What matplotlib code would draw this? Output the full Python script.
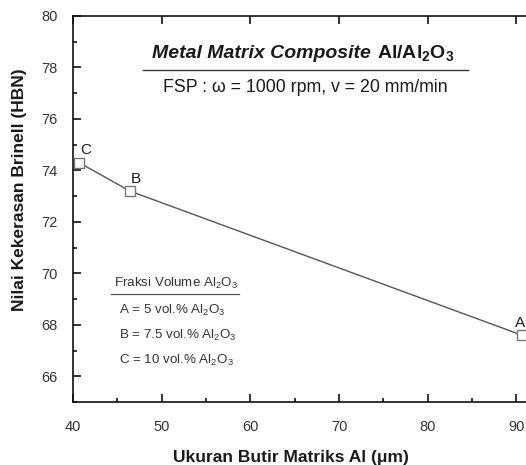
import numpy as np
import matplotlib.pyplot as plt
from matplotlib.ticker import MultipleLocator

plt.rcParams['font.family'] = ['Liberation Sans', 'DejaVu Sans']
plt.rcParams['mathtext.default'] = 'regular'

# grain size (um) vs Brinell hardness
grain_size = [40.7, 46.4, 90.6]
hardness = [74.3, 73.2, 67.6]
point_labels = ['C', 'B', 'A']
label_offsets = [(1, 6), (1, 6), (-5, 6)]

x_ticks = [40, 50, 60, 70, 80, 90, 100]
x_ticklabels = ['40', '50', '60', '70', '80', '90', '']

legend_title = 'Fraksi Volume Al$_2$O$_3$'
legend_rows = ['A = 5 vol.% Al$_2$O$_3$',
               'B = 7.5 vol.% Al$_2$O$_3$',
               'C = 10 vol.% Al$_2$O$_3$']

W, H = 526, 465
fig = plt.figure(figsize=(W/100, H/100), dpi=100)

def px(x, y):
    return x/W, 1 - y/H

# axes from x=73..605 px (40..100), y=16..402 px (80..65)
ax = fig.add_axes([73/W, 1-402/H, 532/W, 386/H])

txt = '#1a1a1a'
ax.plot(grain_size, hardness, color='#555555', lw=1.0, marker='s', ms=6.5,
        mfc='white', mec='#777777', mew=1.0)
for x, y, s, off in zip(grain_size, hardness, point_labels, label_offsets):
    ax.annotate(s, (x, y), xytext=off, textcoords='offset points',
                fontsize=11, color=txt)

ax.set_xlim(40, 100)
ax.set_ylim(65, 80)
ax.set_xticks(x_ticks)
ax.set_xticklabels(x_ticklabels)
ax.xaxis.set_minor_locator(MultipleLocator(5))
ax.yaxis.set_major_locator(MultipleLocator(2))
ax.yaxis.set_minor_locator(MultipleLocator(1))
ax.tick_params(which='both', direction='in', top=True, right=True,
               colors='#111111', labelcolor='#333333', labelsize=10.5, width=1.2)
ax.tick_params(which='major', length=6)
ax.tick_params(which='minor', length=3, top=False, right=False)
ax.tick_params(axis='x', pad=13)
ax.tick_params(axis='y', pad=11)
for sp in ax.spines.values():
    sp.set_linewidth(1.2)
    sp.set_color('#111111')

fig.text(*px(291, 457), 'Ukuran Butir Matriks Al (\u03bcm)', fontsize=12.5,
         fontweight='bold', color=txt, ha='center', va='center')
fig.text(*px(20, 190), 'Nilai Kekerasan Brinell (HBN)', fontsize=12.5,
         fontweight='bold', color=txt, ha='center', va='center', rotation=90)

# title block
fig.text(*px(371, 58), 'Metal Matrix Composite', fontsize=14, fontweight='bold',
         fontstyle='italic', color=txt, ha='right', va='baseline')
fig.text(*px(377, 58), 'Al/Al$_2$O$_3$', fontsize=14, fontweight='bold',
         color=txt, ha='left', va='baseline')
fig.add_artist(plt.Line2D([143/W, 468/W], [1-70/H, 1-70/H], color='#333333', lw=1.0))
fig.text(*px(305, 88), 'FSP : \u03c9 = 1000 rpm, v = 20 mm/min', fontsize=12.8,
         color=txt, ha='center', va='center')

# composition box
fig.text(*px(176, 283), legend_title, fontsize=9.6, color='#333333',
         ha='center', va='center')
fig.add_artist(plt.Line2D([111/W, 239/W], [1-294/H, 1-294/H], color='#555555', lw=0.9))
for i, row in enumerate(legend_rows):
    fig.text(*px(119, 310 + i*25), row, fontsize=9.6, color='#333333',
             ha='left', va='center')

fig.savefig('out.png', dpi=100)
